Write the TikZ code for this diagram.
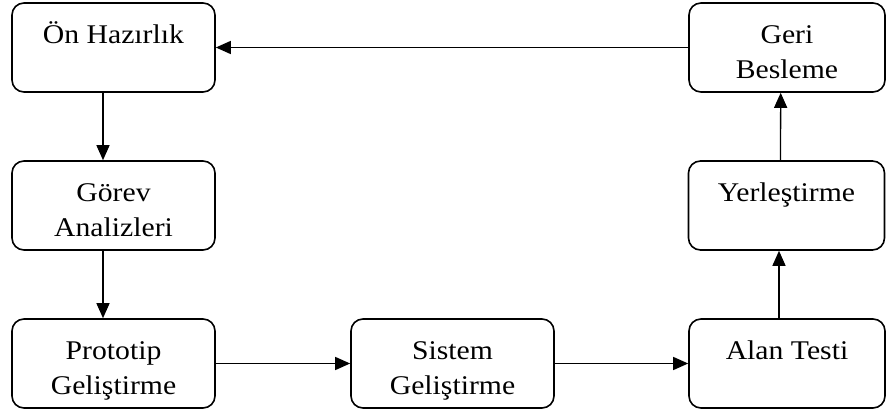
\documentclass[tikz,border=0pt]{standalone}
\usepackage{fontspec}
\setmainfont{Liberation Serif}[FakeStretch=1.1]
\usetikzlibrary{arrows.meta}

% top-aligned, centred text block inside a process box
\newcommand\bxt[1]{\parbox[c][89pt][t]{185pt}{\centering\vspace*{16.5pt}\strut #1}}

\begin{document}
\begin{tikzpicture}[x=1pt,y=-1pt,
  procbox/.style={draw, line width=1.6pt, rounded corners=12pt, inner sep=0pt,
    minimum height=89pt, font=\fontsize{27}{35}\selectfont},
  leftbox/.style={procbox, minimum width=203pt},
  rightbox/.style={procbox, minimum width=196pt},
  arr/.style={line width=1.3pt, -{Triangle[length=15pt,width=13pt]}}]
\useasboundingbox (0,0) rectangle (887,414);

\node[leftbox]  (on)     at (113.5,47.5)  {\bxt{Ön Hazırlık}};
\node[leftbox]  (gorev)  at (113.5,205.5) {\bxt{Görev\\Analizleri}};
\node[leftbox]  (proto)  at (113.5,363.5) {\bxt{Prototip\\Geliştirme}};
\node[leftbox]  (sistem) at (452.5,363.5) {\bxt{Sistem\\Geliştirme}};
\node[rightbox] (alan)   at (787,363.5)   {\bxt{Alan Testi}};
\node[rightbox] (yerl)   at (786.5,205.5) {\bxt{Yerleştirme}};
\node[rightbox] (geri)   at (787,47.5)    {\bxt{Geri\\Besleme}};

\draw[arr] ([xshift=-10.5pt]on.south)    -- ([xshift=-10.5pt]gorev.north);
\draw[arr] ([xshift=-10.5pt]gorev.south) -- ([xshift=-10.5pt]proto.north);
\draw[arr] (proto.east)  -- (sistem.west);
\draw[arr] (sistem.east) -- (alan.west);
\draw[arr] ([xshift=-8pt]alan.north)     -- ([xshift=-7.5pt]yerl.south);
\draw[arr] ([xshift=-6pt]yerl.north)     -- ([xshift=-6.3pt]geri.south);
\draw[arr] (geri.west) -- (on.east);
\end{tikzpicture}
\end{document}
